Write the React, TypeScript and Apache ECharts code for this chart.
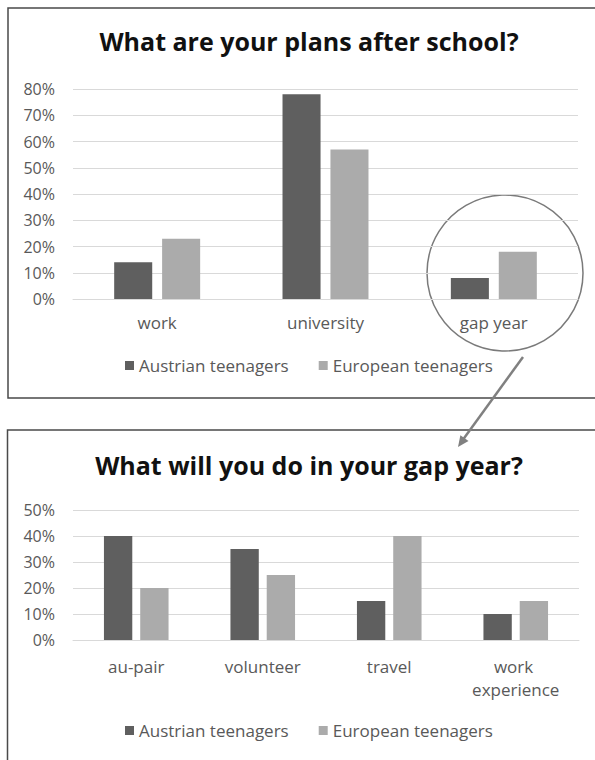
import React, { useEffect, useRef } from "react";
import * as echarts from "echarts";

const planCategories = ["work", "university", "gap year"];
const planAustrian = [14, 78, 8];
const planEuropean = [23, 57, 18];
const planMax = 80;

const gapCategories = ["au-pair", "volunteer", "travel", "work experience"];
const gapAustrian = [40, 35, 15, 10];
const gapEuropean = [20, 25, 40, 15];
const gapMax = 50;

const seriesNames = ["Austrian teenagers", "European teenagers"];
const titles = ["What are your plans after school?", "What will you do in your gap year?"];

const DARK = "#5f5f5f";
const LIGHT = "#ababab";
const GRID = "#d9d9d9";
const LABEL = "#595959";
const FONT = "'Open Sans', sans-serif";

function arrowHead(x1: number, y1: number, x2: number, y2: number, len: number, half: number) {
  const dx = x2 - x1;
  const dy = y2 - y1;
  const l = Math.sqrt(dx * dx + dy * dy);
  const ux = dx / l;
  const uy = dy / l;
  const bx = x2 - ux * len;
  const by = y2 - uy * len;
  return [
    [x2, y2],
    [bx - uy * half, by + ux * half],
    [bx + uy * half, by - ux * half],
  ];
}

export default function App() {
  const ref = useRef<HTMLDivElement>(null);
  useEffect(() => {
    if (!ref.current) return;
    const chart = echarts.init(ref.current, undefined, { renderer: "svg" });
    const yAxisBase = (max: number) => ({
      type: "value",
      min: 0,
      max,
      interval: 10,
      axisLabel: { formatter: "{value}%", color: LABEL, fontSize: 16, fontFamily: FONT, margin: 18 },
      splitLine: { lineStyle: { color: GRID, width: 1 } },
      axisLine: { show: false },
      axisTick: { show: false },
    });
    const xAxisBase = (cats: string[], margin: number) => ({
      type: "category",
      data: cats,
      axisLine: { lineStyle: { color: GRID, width: 1 } },
      axisTick: { show: false },
      axisLabel: {
        color: LABEL,
        fontSize: 17,
        fontFamily: FONT,
        margin,
        interval: 0,
        width: 110,
        overflow: "break",
        lineHeight: 23,
      },
    });
    const legendBase = (top: number) => ({
      top,
      left: 120,
      icon: "rect",
      itemWidth: 9,
      itemHeight: 9,
      itemGap: 30,
      data: seriesNames,
      textStyle: { color: LABEL, fontSize: 17, fontFamily: FONT },
    });
    const titleStyle = { fontSize: 25, fontWeight: "bold", color: "#111", fontFamily: FONT };
    const tx1 = 523, ty1 = 357, tx2 = 458, ty2 = 447;
    chart.setOption({
      animation: false,
      backgroundColor: "#ffffff",
      title: [
        { text: titles[0], left: 304, textAlign: "center", top: 23, textStyle: titleStyle },
        { text: titles[1], left: 304, textAlign: "center", top: 447, textStyle: titleStyle },
      ],
      legend: [legendBase(352), legendBase(717)],
      grid: [
        { left: 73, right: 17, top: 89, bottom: 461 },
        { left: 73, right: 16, top: 510, bottom: 120 },
      ],
      xAxis: [
        { ...xAxisBase(planCategories, 12), gridIndex: 0 },
        { ...xAxisBase(gapCategories, 15), gridIndex: 1 },
      ],
      yAxis: [
        { ...yAxisBase(planMax), gridIndex: 0 },
        { ...yAxisBase(gapMax), gridIndex: 1 },
      ],
      series: [
        {
          name: seriesNames[0], type: "bar", xAxisIndex: 0, yAxisIndex: 0,
          data: planAustrian, itemStyle: { color: DARK }, barWidth: "22.6%", barGap: "26%",
        },
        {
          name: seriesNames[1], type: "bar", xAxisIndex: 0, yAxisIndex: 0,
          data: planEuropean, itemStyle: { color: LIGHT }, barWidth: "22.6%", barGap: "26%",
        },
        {
          name: seriesNames[0], type: "bar", xAxisIndex: 1, yAxisIndex: 1,
          data: gapAustrian, itemStyle: { color: DARK }, barWidth: "22.4%", barGap: "28%",
        },
        {
          name: seriesNames[1], type: "bar", xAxisIndex: 1, yAxisIndex: 1,
          data: gapEuropean, itemStyle: { color: LIGHT }, barWidth: "22.4%", barGap: "28%",
        },
      ],
      graphic: [
        {
          type: "rect", shape: { x: 8, y: 8, width: 600, height: 390 },
          style: { fill: "none", stroke: "#4a4a4a", lineWidth: 1.5 }, silent: true,
        },
        {
          type: "rect", shape: { x: 7.5, y: 430, width: 600, height: 400 },
          style: { fill: "none", stroke: "#4a4a4a", lineWidth: 1.5 }, silent: true,
        },
        {
          type: "circle", shape: { cx: 505, cy: 273, r: 78 },
          style: { fill: "none", stroke: "#7a7a7a", lineWidth: 1.5 }, silent: true,
        },
        {
          type: "line", shape: { x1: tx1, y1: ty1, x2: tx2 + 4, y2: ty2 - 6 },
          style: { stroke: "#808080", lineWidth: 2.5 }, silent: true,
        },
        {
          type: "polygon", shape: { points: arrowHead(tx1, ty1, tx2, ty2, 11, 5) },
          style: { fill: "#808080" }, silent: true,
        },
      ],
    });
    return () => chart.dispose();
  }, []);
  return (
    <div
      ref={ref}
      style={{ position: "fixed", left: 0, top: 0, width: 595, height: 760 }}
    />
  );
}
